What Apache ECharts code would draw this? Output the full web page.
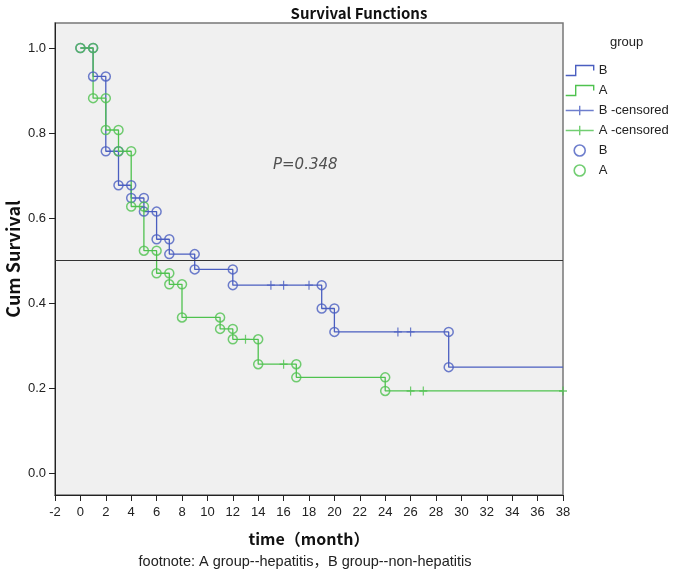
<!DOCTYPE html>
<html>
<head>
<meta charset="utf-8">
<script src="https://cdn.jsdelivr.net/npm/echarts@6/dist/echarts.min.js"></script>
<style>
html,body{margin:0;padding:0;background:#fff;}
#chart{width:685px;height:574px;}
</style>
</head>
<body>
<div id="chart"></div>
<script>
// ---- data ----
const xTickMin = -2, xTickMax = 38, xTickStep = 2;
const yTickLabels = [0, 0.2, 0.4, 0.6, 0.8, 1.0];
const endTime = 38;

// group B (non-hepatitis)
const bEventTimes = [1, 2, 3, 4, 5, 6, 7, 9, 12, 19, 20, 29];
const bSurvival   = [0.933, 0.757, 0.677, 0.647, 0.615, 0.550, 0.515, 0.479, 0.442, 0.387, 0.332, 0.249];
const bCensored   = [15, 16, 18, 25, 26];

// group A (hepatitis)
const aEventTimes = [1, 2, 3, 4, 5, 6, 7, 8, 11, 12, 14, 17, 24];
const aSurvival   = [0.882, 0.807, 0.757, 0.627, 0.523, 0.470, 0.444, 0.366, 0.339, 0.3145, 0.256, 0.225, 0.193];
const aCensored   = [13, 16, 26, 27, 38];

const medianLine = 0.5;
const pText = 'P=0.348';

const blue = '#4a5ec0';
const green = '#4fc24f';

// ---- helpers ----
function stepLine(times, surv) {
  const pts = [[0, 1]];
  times.forEach((t, i) => pts.push([t, surv[i]]));
  pts.push([endTime, surv[surv.length - 1]]);
  return pts;
}
function corners(times, surv) {
  const pts = [[0, 1]];
  let prev = 1;
  times.forEach((t, i) => { pts.push([t, prev]); pts.push([t, surv[i]]); prev = surv[i]; });
  return pts;
}
function survAt(times, surv, t) {
  let s = 1;
  times.forEach((tt, i) => { if (tt <= t) s = surv[i]; });
  return s;
}
function censPts(times, surv, cens) {
  return cens.map(t => [t, survAt(times, surv, t)]);
}

const stepIcon = 'path://M0,10L10,10L10,0L28,0L28,5';
const censIcon = 'path://M0,5L30,5M15,0L15,10';
const plusSym = 'path://M0,5L10,5M5,0L5,10';

const labelFont = "'Liberation Sans', Arial, sans-serif";
const cjkFont = "'Noto Sans CJK SC', 'Noto Sans', sans-serif";

const chart = echarts.init(document.getElementById('chart'), null, {renderer: 'canvas'});

const option = {
  backgroundColor: '#ffffff',
  animation: false,
  title: [
    {text: 'Survival Functions', left: 354, top: 1, textAlign: 'center',
     textStyle: {fontFamily: cjkFont, fontSize: 15, fontWeight: 'bold', color: '#111'}},
    {text: 'group', left: 605, top: 31,
     textStyle: {fontFamily: labelFont, fontSize: 13, fontWeight: 'normal', color: '#222'}}
  ],
  grid: {left: 55, top: 23, width: 508, height: 472, show: true, containLabel: false,
         outerBoundsMode: 'none',
         backgroundColor: '#f0f0f0', borderColor: '#777', borderWidth: 1.5},
  legend: {
    orient: 'vertical', left: 560, top: 59, itemWidth: 28, itemHeight: 11, itemGap: 7,
    formatter: n => n.trim(),
    textStyle: {fontFamily: labelFont, fontSize: 13, color: '#222'},
    data: [
      {name: 'B', icon: stepIcon, itemStyle: {color: 'transparent', borderColor: blue, borderWidth: 1.4}},
      {name: 'A', icon: stepIcon, itemStyle: {color: 'transparent', borderColor: green, borderWidth: 1.4}},
      {name: 'B -censored', icon: censIcon, itemStyle: {color: 'transparent', borderColor: blue, borderWidth: 1.4}},
      {name: 'A -censored', icon: censIcon, itemStyle: {color: 'transparent', borderColor: green, borderWidth: 1.4}},
      {name: 'B ', icon: 'circle', itemStyle: {color: 'transparent', borderColor: blue, borderWidth: 1.6}},
      {name: 'A ', icon: 'circle', itemStyle: {color: 'transparent', borderColor: green, borderWidth: 1.6}}
    ]
  },
  xAxis: {
    type: 'value', min: xTickMin, max: xTickMax, interval: xTickStep,
    name: 'time（month）', nameLocation: 'middle', nameGap: 36,
    nameTextStyle: {fontFamily: cjkFont, fontSize: 16, fontWeight: 'bold', color: '#111'},
    axisLine: {show: true, onZero: false, lineStyle: {color: '#222', width: 1}},
    axisTick: {show: true, inside: false, length: 6, lineStyle: {color: '#222'}},
    axisLabel: {margin: 11, fontFamily: labelFont, fontSize: 13, color: '#222'},
    splitLine: {show: false}
  },
  yAxis: {
    type: 'value', min: -0.0518, max: 1.0588,
    name: 'Cum Survival', nameLocation: 'middle', nameGap: 33, nameMoveOverlap: false,
    nameTextStyle: {fontFamily: cjkFont, fontSize: 18, fontWeight: 'bold', color: '#111'},
    axisLine: {show: true, onZero: false, lineStyle: {color: '#222', width: 1}},
    axisTick: {show: true, length: 6, customValues: yTickLabels, lineStyle: {color: '#222'}},
    axisLabel: {margin: 9, customValues: yTickLabels, fontFamily: labelFont, fontSize: 13, color: '#222',
                formatter: v => v.toFixed(1)},
    splitLine: {show: false}
  },
  graphic: [
    {type: 'text', x: 273, y: 158,
     style: {text: pText, font: "oblique 15px 'DejaVu Sans', sans-serif", fill: '#505050'}},
    {type: 'text', x: 305, y: 555,
     style: {text: 'footnote: A group--hepatitis，B group--non-hepatitis', font: "14.5px 'Liberation Sans', 'Noto Sans CJK SC', sans-serif",
             fill: '#222', align: 'center'}}
  ],
  series: [
    {name: 'B', type: 'line', step: 'end', data: stepLine(bEventTimes, bSurvival), showSymbol: false,
     lineStyle: {color: blue, width: 1.3}, itemStyle: {color: blue}, z: 3,
     markLine: {silent: true, symbol: 'none', label: {show: false},
                lineStyle: {color: '#333', width: 1.2, type: 'solid'}, data: [{yAxis: medianLine}]}},
    {name: 'A', type: 'line', step: 'end', data: stepLine(aEventTimes, aSurvival), showSymbol: false,
     lineStyle: {color: green, width: 1.3}, itemStyle: {color: green}, z: 3},
    {name: 'B -censored', type: 'scatter', data: censPts(bEventTimes, bSurvival, bCensored),
     symbol: plusSym, symbolSize: [8, 9], itemStyle: {color: 'transparent', borderColor: blue, borderWidth: 1.3}, z: 4},
    {name: 'A -censored', type: 'scatter', data: censPts(aEventTimes, aSurvival, aCensored),
     symbol: plusSym, symbolSize: [8, 9], itemStyle: {color: 'transparent', borderColor: green, borderWidth: 1.3}, z: 4},
    {name: 'B ', type: 'scatter', data: corners(bEventTimes, bSurvival),
     symbol: 'circle', symbolSize: 9, itemStyle: {color: 'transparent', borderColor: blue, borderWidth: 1.5}, z: 5},
    {name: 'A ', type: 'scatter', data: corners(aEventTimes, aSurvival),
     symbol: 'circle', symbolSize: 9, itemStyle: {color: 'transparent', borderColor: green, borderWidth: 1.5}, z: 5}
  ]
};
chart.setOption(option);
</script>
</body>
</html>
